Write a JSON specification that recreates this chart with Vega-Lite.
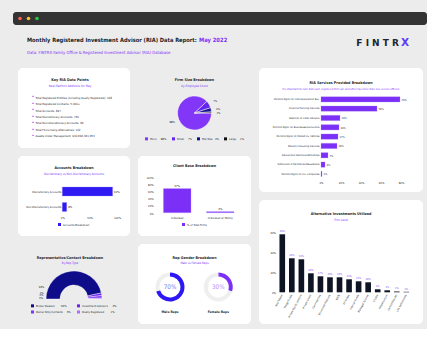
{
  "$schema": "https://vega.github.io/schema/vega-lite/v6.json",
  "background": "#ececec",
  "padding": {"left": 13, "top": 12, "right": 0, "bottom": 5},
  "spacing": 0,
  "resolve": {"scale": {"color": "independent"}, "legend": {"color": "independent"}},
  "config": {
    "view": {"fill": "white", "cornerRadius": 5, "stroke": null},
    "font": "Liberation Sans Narrow, DejaVu Sans Condensed, Liberation Sans, sans-serif",
    "title": {"fontSize": 3.7, "fontWeight": "bold", "color": "#1a1f2c", "subtitleFontSize": 3, "subtitleColor": "#7b2ff7", "anchor": "middle", "frame": "group", "subtitlePadding": 2.5},
    "axis": {"grid": false, "ticks": false, "domain": false, "title": null, "labelFontSize": 2.8, "labelColor": "#1a1f2c"},
    "rule": {"color": "#cccccc", "strokeWidth": 0.5},
    "legend": {"title": null, "labelFontSize": 2.8, "labelColor": "#1a1f2c", "symbolType": "square", "symbolSize": 9, "symbolStrokeWidth": 0, "padding": 0, "labelOffset": 2, "columnPadding": 5, "rowPadding": 2.5, "layout": {"bottom": {"anchor": "middle"}}}
  },
  "vconcat": [
    {
      "width": 414, "height": 13,
      "view": {"fill": "#333333", "cornerRadius": 3, "stroke": null},
      "data": {"values": [{"c": "#ff5f57"}, {"c": "#febc2e"}, {"c": "#28c840"}]},
      "mark": {"type": "circle", "size": 13, "opacity": 1},
      "encoding": {
        "x": {"field": "c", "type": "nominal", "sort": null, "scale": {"range": [2.75, 28.25], "paddingInner": 0, "paddingOuter": 0}, "axis": null},
        "color": {"field": "c", "type": "nominal", "scale": null}
      }
    },
    {
      "hconcat": [
        {
          "width": 1, "height": 43,
          "view": {"fill": "transparent", "stroke": null},
          "data": {"values": []},
          "mark": "point",
          "title": {"text": "Monthly Registered Investment Advisor (RIA) Data Report:", "subtitle": "Data: FINTRX Family Office & Registered Investment Advisor (RIA) Database", "anchor": "start", "dx": 14, "offset": -30, "fontSize": 5.7, "subtitleFontSize": 4.2, "subtitlePadding": 8.5, "subtitleColor": "#7b2ff7", "color": "#1a1f2c"}
        },
        {
          "width": 210, "height": 43,
          "view": {"fill": "transparent", "stroke": null},
          "title": {"text": "May 2022", "anchor": "start", "offset": -17.5, "fontSize": 5.8, "color": "#7b2ff7"},
          "data": {"values": [{"a": "F I N T R", "b": "X"}]},
          "layer": [
            {"mark": {"type": "text", "align": "right", "fontSize": 9, "fontWeight": "bold", "font": "DejaVu Sans", "color": "#1c2431", "dx": -10, "dy": -4}, "encoding": {"x": {"value": "width"}, "text": {"field": "a"}}},
            {"mark": {"type": "text", "align": "right", "fontSize": 10.5, "fontWeight": "bold", "font": "DejaVu Sans", "color": "#5b3df5", "dy": -4}, "encoding": {"x": {"value": "width"}, "text": {"field": "b"}}}
          ]
        }
      ],
      "spacing": 2,
      "resolve": {"scale": {"color": "independent"}, "legend": {"color": "independent"}}
    },
    {
      "hconcat": [
        {"width": 1, "height": 1, "view": {"fill": "transparent"}, "data": {"values": []}, "mark": "point"},
        {
          "hconcat": [
            {
              "vconcat": [
                {
                  "width": 112, "height": 80,
                  "title": {"text": "Key RIA Data Points", "subtitle": "New Platform Additions for May", "offset": -19.5, "dx": -4},
                  "data": {"values": [
                    {"i": 1, "t": "Total Registered Entities (including Dually Registered): 108"},
                    {"i": 2, "t": "Total Registered Contacts: 5,160+"},
                    {"i": 3, "t": "Total Accounts: 847"},
                    {"i": 4, "t": "Total Discretionary Accounts: 781"},
                    {"i": 5, "t": "Total Non-Discretionary Accounts: 66"},
                    {"i": 6, "t": "Total Firms Using Alternatives: 122"},
                    {"i": 7, "t": "Assets Under Management: $32,696,361,653"}
                  ]},
                  "encoding": {"y": {"field": "i", "type": "ordinal", "scale": {"range": [26.1, 71.2], "paddingInner": 0, "paddingOuter": 0}, "axis": null}},
                  "layer": [
                    {"mark": {"type": "text", "text": "•", "color": "#7b2ff7", "dx": -41, "fontSize": 4.5}},
                    {"mark": {"type": "text", "align": "left", "dx": -38.5, "fontSize": 2.9, "color": "#1a1f2c"}, "encoding": {"text": {"field": "t"}}}
                  ]
                },
                {
                  "width": 112, "height": 80,
                  "title": {"text": "Accounts Breakdown", "subtitle": "Discretionary vs Non-Discretionary Accounts", "offset": -19.5},
                  "data": {"values": [
                    {"t": "Discretionary Accounts", "v": 92, "p": "92%", "s": "Accounts Breakdown"},
                    {"t": "Non-Discretionary Accounts", "v": 8, "p": "8%", "s": "Accounts Breakdown"}
                  ]},
                  "encoding": {
                    "y": {"field": "t", "type": "nominal", "sort": null, "scale": {"domain": ["Discretionary Accounts", "Non-Discretionary Accounts"], "range": [26.35, 60.14], "paddingInner": 0.42, "paddingOuter": 0.3}, "axis": {"offset": -44.3, "labelPadding": 1.5}},
                    "x": {"field": "v", "type": "quantitative", "scale": {"domain": [-81, 123.8], "zero": false, "nice": false}, "axis": {"values": [0, 50, 100], "labelExpr": "datum.value + '%'", "offset": -22.7, "labelPadding": 2.5}}
                  },
                  "layer": [
                    {"data": {"values": [{}]}, "mark": "rule", "encoding": {"x": {"datum": 0}, "x2": {"datum": 105}, "y": {"datum": "Non-Discretionary Accounts", "bandPosition": 1.2}}},
                    {"data": {"values": [{}]}, "mark": "rule", "encoding": {"x": {"datum": 0}, "y": {"datum": "Discretionary Accounts", "bandPosition": -0.33}, "y2": {"datum": "Non-Discretionary Accounts", "bandPosition": 1.2}}},
                    {"mark": {"type": "bar", "stroke": "#8f84f7", "strokeWidth": 0.3}, "encoding": {"color": {"field": "s", "type": "nominal", "scale": {"range": ["#2f1bf2"]}, "legend": {"orient": "bottom", "offset": -13}}}},
                    {"mark": {"type": "text", "align": "left", "dx": 1.5, "fontSize": 2.8, "color": "#1a1f2c"}, "encoding": {"text": {"field": "p"}}}
                  ]
                },
                {
                  "width": 112, "height": 80,
                  "title": {"text": "Representative/Contact Breakdown", "subtitle": "By Rep Type", "offset": -21, "dx": -4},
                  "data": {"values": [
                    {"k": "Broker Dealers\u00a0\u00a0\u00a0\u00a0\u00a0\u00a0\u00a0\u00a093%", "v": 93, "p": "93%", "o": 1},
                    {"k": "Investment Advisors\u00a0\u00a0\u00a0\u00a0\u00a0\u00a03%", "v": 3, "p": "3%", "o": 2},
                    {"k": "Owner Only Contacts\u00a0\u00a0\u00a0\u00a0\u00a03%", "v": 3, "p": "3%", "o": 3},
                    {"k": "Dually Registered\u00a0\u00a0\u00a0\u00a0\u00a0\u00a0\u00a0\u00a01%", "v": 1, "p": "1%", "o": 4}
                  ]},
                  "layer": [
                    {
                      "mark": {"type": "arc", "outerRadius": 28, "innerRadius": 14, "stroke": "white", "strokeWidth": 0.4, "yOffset": 15},
                      "encoding": {
                        "theta": {"field": "v", "type": "quantitative", "stack": true, "scale": {"range": [-1.5708, 1.5708]}},
                        "order": {"field": "o"},
                        "color": {"field": "k", "type": "nominal", "sort": null, "scale": {"range": ["#0f0c8a", "#6a24f0", "#7f35f7", "#a86ff8"]}, "legend": {"orient": "bottom", "offset": -20, "columns": 2, "direction": "horizontal", "columnPadding": 6}}
                      }
                    },
                    {
                      "transform": [{"filter": "datum.o > 1"}],
                      "mark": {"type": "text", "radius": 33, "fontSize": 2.8, "color": "#1a1f2c", "yOffset": 15},
                      "encoding": {"theta": {"field": "v", "type": "quantitative", "stack": true}, "order": {"field": "o"}, "text": {"field": "p"}}
                    },
                    {
                      "transform": [{"filter": "datum.o == 1"}],
                      "mark": {"type": "text", "radius": 35, "fontSize": 2.8, "color": "#1a1f2c", "yOffset": 15},
                      "encoding": {"theta": {"datum": 12}, "text": {"field": "p"}}
                    }
                  ]
                }
              ],
              "spacing": 8,
              "resolve": {"scale": {"color": "independent"}, "legend": {"color": "independent"}}
            },
            {
              "vconcat": [
                {
                  "width": 113, "height": 80,
                  "title": {"text": "Firm Size Breakdown", "subtitle": "by Employee Count", "offset": -19.5},
                  "data": {"values": [
                    {"k": "Micro\u00a0\u00a0\u00a0\u00a0\u00a088%", "v": 88, "p": "88%", "o": 1},
                    {"k": "Small\u00a0\u00a0\u00a0\u00a0\u00a07%", "v": 7, "p": "7%", "o": 2},
                    {"k": "Mid-Size\u00a0\u00a0\u00a04%", "v": 4, "p": "4%", "o": 3},
                    {"k": "Large\u00a0\u00a0\u00a0\u00a0\u00a01%", "v": 1, "p": "1%", "o": 4}
                  ]},
                  "encoding": {
                    "theta": {"field": "v", "type": "quantitative", "stack": true, "scale": {"range": [1.5708, 7.854]}},
                    "order": {"field": "o"}
                  },
                  "layer": [
                    {
                      "mark": {"type": "arc", "outerRadius": 17, "stroke": "white", "strokeWidth": 0.5, "yOffset": 5},
                      "encoding": {"color": {"field": "k", "type": "nominal", "sort": null, "scale": {"range": ["#8236f7", "#6226ee", "#12108c", "#111111"]}, "legend": {"orient": "bottom", "direction": "horizontal", "offset": -11.5}}}
                    },
                    {
                      "mark": {"type": "text", "radius": 24, "fontSize": 2.8, "color": "#1a1f2c", "yOffset": 5},
                      "encoding": {"text": {"field": "p"}}
                    }
                  ]
                },
                {
                  "width": 113, "height": 80,
                  "title": {"text": "Client Base Breakdown", "offset": -12},
                  "data": {"values": [
                    {"c": "Individual", "v": 67, "p": "67%", "s": "% of Total Firms"},
                    {"c": "Individual w/ Family", "v": 3, "p": "3%", "s": "% of Total Firms"}
                  ]},
                  "encoding": {
                    "x": {"field": "c", "type": "nominal", "sort": null, "scale": {"domain": ["Individual", "Individual w/ Family"], "range": [12.5, 109], "paddingInner": 0.36, "paddingOuter": 0.3}, "axis": {"offset": -23.3, "labelAngle": 0, "labelPadding": 3}},
                    "y": {"field": "v", "type": "quantitative", "scale": {"domain": [-64.7, 157.5], "zero": false, "nice": false}, "axis": {"values": [0, 20, 40, 60, 80, 100], "labelExpr": "datum.value + '%'", "offset": -16.7, "labelPadding": 1.5}}
                  },
                  "layer": [
                    {"data": {"values": [{}]}, "mark": "rule", "encoding": {"y": {"datum": 0}, "x": {"datum": "Individual", "bandPosition": -0.32}, "x2": {"datum": "Individual w/ Family", "bandPosition": 1.28}}},
                    {"data": {"values": [{}]}, "mark": "rule", "encoding": {"x": {"datum": "Individual", "bandPosition": -0.32}, "y": {"datum": 0}, "y2": {"datum": 100}}},
                    {"mark": {"type": "bar", "stroke": "#b08af9", "strokeWidth": 0.3}, "encoding": {"color": {"field": "s", "type": "nominal", "scale": {"range": ["#7b2ff7"]}, "legend": {"orient": "bottom", "offset": -13}}}},
                    {"mark": {"type": "text", "baseline": "bottom", "dy": -1, "fontSize": 2.8, "color": "#1a1f2c"}, "encoding": {"text": {"field": "p"}}}
                  ]
                },
                {
                  "width": 113, "height": 80,
                  "title": {"text": "Rep Gender Breakdown", "subtitle": "Male vs Female Reps", "offset": -21},
                  "data": {"values": [
                    {"g": "Male Reps", "part": "a", "v": 70, "c": "male"},
                    {"g": "Male Reps", "part": "b", "v": 30, "c": "rest"},
                    {"g": "Female Reps", "part": "a", "v": 30, "c": "female"},
                    {"g": "Female Reps", "part": "b", "v": 70, "c": "rest"}
                  ]},
                  "encoding": {
                    "x": {"field": "g", "type": "nominal", "sort": ["Male Reps", "Female Reps"], "scale": {"type": "point", "range": [32, 80.3], "padding": 0}, "axis": null}
                  },
                  "layer": [
                    {
                      "transform": [{"filter": "datum.g == 'Male Reps'"}],
                      "mark": {"type": "arc", "outerRadius": 14.5, "innerRadius": 10.5, "yOffset": 3},
                      "encoding": {"theta": {"field": "v", "type": "quantitative", "stack": true}, "order": {"field": "part"}, "color": {"field": "c", "type": "nominal", "scale": {"domain": ["male", "female", "rest"], "range": ["#2d17f5", "#7b2ff7", "#efefef"]}, "legend": null}}
                    },
                    {
                      "transform": [{"filter": "datum.g == 'Female Reps'"}],
                      "mark": {"type": "arc", "outerRadius": 14.5, "innerRadius": 10.5, "yOffset": 3},
                      "encoding": {"theta": {"field": "v", "type": "quantitative", "stack": true}, "order": {"field": "part"}, "color": {"field": "c", "type": "nominal", "legend": null}}
                    },
                    {
                      "transform": [{"filter": "datum.g == 'Male Reps' && datum.part == 'a'"}],
                      "mark": {"type": "text", "fontSize": 6.3, "color": "#7d74f2", "yOffset": 3},
                      "encoding": {"text": {"value": "70%"}}
                    },
                    {
                      "transform": [{"filter": "datum.g == 'Female Reps' && datum.part == 'a'"}],
                      "mark": {"type": "text", "fontSize": 6.3, "color": "#b48cf7", "yOffset": 3},
                      "encoding": {"text": {"value": "30%"}}
                    },
                    {
                      "transform": [{"filter": "datum.part == 'a'"}],
                      "mark": {"type": "text", "fontSize": 3.3, "fontWeight": "bold", "color": "#1a1f2c", "dy": 28},
                      "encoding": {"text": {"field": "g"}}
                    }
                  ]
                }
              ],
              "spacing": 8,
              "resolve": {"scale": {"color": "independent"}, "legend": {"color": "independent"}}
            },
            {
              "vconcat": [
                {
                  "width": 164, "height": 124,
                  "title": {"text": "RIA Services Provided Breakdown", "subtitle": "It's important to note that each registered firm can and often has more than one service offered.", "subtitleFontStyle": "italic", "subtitleFontSize": 2.7, "offset": -22},
                  "data": {"values": [
                    {"s": "Portfolio Mgmt for Individuals/Small Bus.", "v": 79, "p": "79%"},
                    {"s": "Financial Planning Services", "v": 56, "p": "56%"},
                    {"s": "Selection of Other Advisors", "v": 19, "p": "19%"},
                    {"s": "Portfolio Mgmt for Businesses/Institutions", "v": 18, "p": "18%"},
                    {"s": "Portfolio Mgmt for Pooled Inv. Vehicles", "v": 17, "p": "17%"},
                    {"s": "Pension Consulting Services", "v": 16, "p": "16%"},
                    {"s": "Educational Seminars/Workshops", "v": 7, "p": "7%"},
                    {"s": "Publication of Periodicals/Newsletters", "v": 4, "p": "4%"},
                    {"s": "Portfolio Mgmt for Inv. Companies", "v": 1, "p": "1%"}
                  ]},
                  "encoding": {
                    "y": {"field": "s", "type": "nominal", "sort": null, "scale": {"domain": ["Portfolio Mgmt for Individuals/Small Bus.", "Financial Planning Services", "Selection of Other Advisors", "Portfolio Mgmt for Businesses/Institutions", "Portfolio Mgmt for Pooled Inv. Vehicles", "Pension Consulting Services", "Educational Seminars/Workshops", "Publication of Periodicals/Newsletters", "Portfolio Mgmt for Inv. Companies"], "range": [25.85, 111.4], "paddingInner": 0.43, "paddingOuter": 0.3}, "axis": {"offset": -62, "labelPadding": 2, "labelLimit": 0, "labelFontSize": 2.5}},
                    "x": {"field": "v", "type": "quantitative", "scale": {"domain": [-62, 102], "zero": false, "nice": false}, "axis": {"values": [0, 20, 40, 60, 80], "labelExpr": "datum.value + '%'", "offset": -13.7, "labelPadding": 2.5}}
                  },
                  "layer": [
                    {"data": {"values": [{}]}, "mark": "rule", "encoding": {"x": {"datum": 0}, "x2": {"datum": 91}, "y": {"datum": "Portfolio Mgmt for Inv. Companies", "bandPosition": 1.3}}},
                    {"data": {"values": [{}]}, "mark": "rule", "encoding": {"x": {"datum": 0}, "y": {"datum": "Portfolio Mgmt for Individuals/Small Bus.", "bandPosition": -0.5}, "y2": {"datum": "Portfolio Mgmt for Inv. Companies", "bandPosition": 1.3}}},
                    {"mark": {"type": "bar", "color": "#7b2ff7", "stroke": "#b08af9", "strokeWidth": 0.3}},
                    {"mark": {"type": "text", "align": "left", "dx": 1.5, "fontSize": 2.7, "color": "#1a1f2c"}, "encoding": {"text": {"field": "p"}}}
                  ]
                },
                {
                  "width": 164, "height": 124,
                  "title": {"text": "Alternative Investments Utilized", "subtitle": "Firm Level", "offset": -21.5},
                  "data": {"values": [
                    {"a": "Real Estate", "v": 58, "p": "58%"},
                    {"a": "Hedge Funds", "v": 34, "p": "34%"},
                    {"a": "Private Equity/Venture", "v": 33, "p": "33%"},
                    {"a": "Private Credit", "v": 19, "p": "19%"},
                    {"a": "Commodities", "v": 16, "p": "17%"},
                    {"a": "Structured Products", "v": 15, "p": "15%"},
                    {"a": "REITs", "v": 15, "p": "15%"},
                    {"a": "Oil & Gas", "v": 13, "p": "13%"},
                    {"a": "Interval Funds", "v": 11, "p": "11%"},
                    {"a": "Managed Futures", "v": 10, "p": "10%"},
                    {"a": "Crypto", "v": 3, "p": "3%"},
                    {"a": "Infrastructure", "v": 2, "p": "2%"},
                    {"a": "Collectibles/Art", "v": 0.8, "p": "1%"},
                    {"a": "Life Settlements", "v": 0.5, "p": "1%"}
                  ]},
                  "encoding": {
                    "x": {"field": "a", "type": "nominal", "sort": null, "scale": {"domain": ["Real Estate", "Hedge Funds", "Private Equity/Venture", "Private Credit", "Commodities", "Structured Products", "REITs", "Oil & Gas", "Interval Funds", "Managed Futures", "Crypto", "Infrastructure", "Collectibles/Art", "Life Settlements"], "range": [17.6, 153], "paddingInner": 0.41, "paddingOuter": 0.3}, "axis": {"offset": -31.7, "labelAngle": -62, "labelPadding": 2, "labelFontSize": 2.6}},
                    "y": {"field": "v", "type": "quantitative", "scale": {"domain": [-31.7, 92.3], "zero": false, "nice": false}, "axis": {"values": [0, 20, 40, 60], "labelExpr": "datum.value + '%'", "offset": -19, "labelPadding": 2.5}}
                  },
                  "layer": [
                    {"data": {"values": [{}]}, "mark": "rule", "encoding": {"y": {"datum": 0}, "x": {"datum": "Real Estate", "bandPosition": -0.26}, "x2": {"datum": "Life Settlements", "bandPosition": 1.15}}},
                    {"data": {"values": [{}]}, "mark": "rule", "encoding": {"x": {"datum": "Real Estate", "bandPosition": -0.26}, "y": {"datum": 0}, "y2": {"datum": 66}}},
                    {"mark": {"type": "bar", "color": "#0e1424"}},
                    {"mark": {"type": "text", "baseline": "bottom", "dy": -0.8, "fontSize": 2.6, "color": "#7b2ff7"}, "encoding": {"text": {"field": "p"}}}
                  ]
                }
              ],
              "spacing": 8,
              "resolve": {"scale": {"color": "independent"}, "legend": {"color": "independent"}}
            }
          ],
          "spacing": 8,
          "resolve": {"scale": {"color": "independent"}, "legend": {"color": "independent"}}
        }
      ],
      "spacing": 4,
      "resolve": {"scale": {"color": "independent"}, "legend": {"color": "independent"}}
    }
  ]
}
